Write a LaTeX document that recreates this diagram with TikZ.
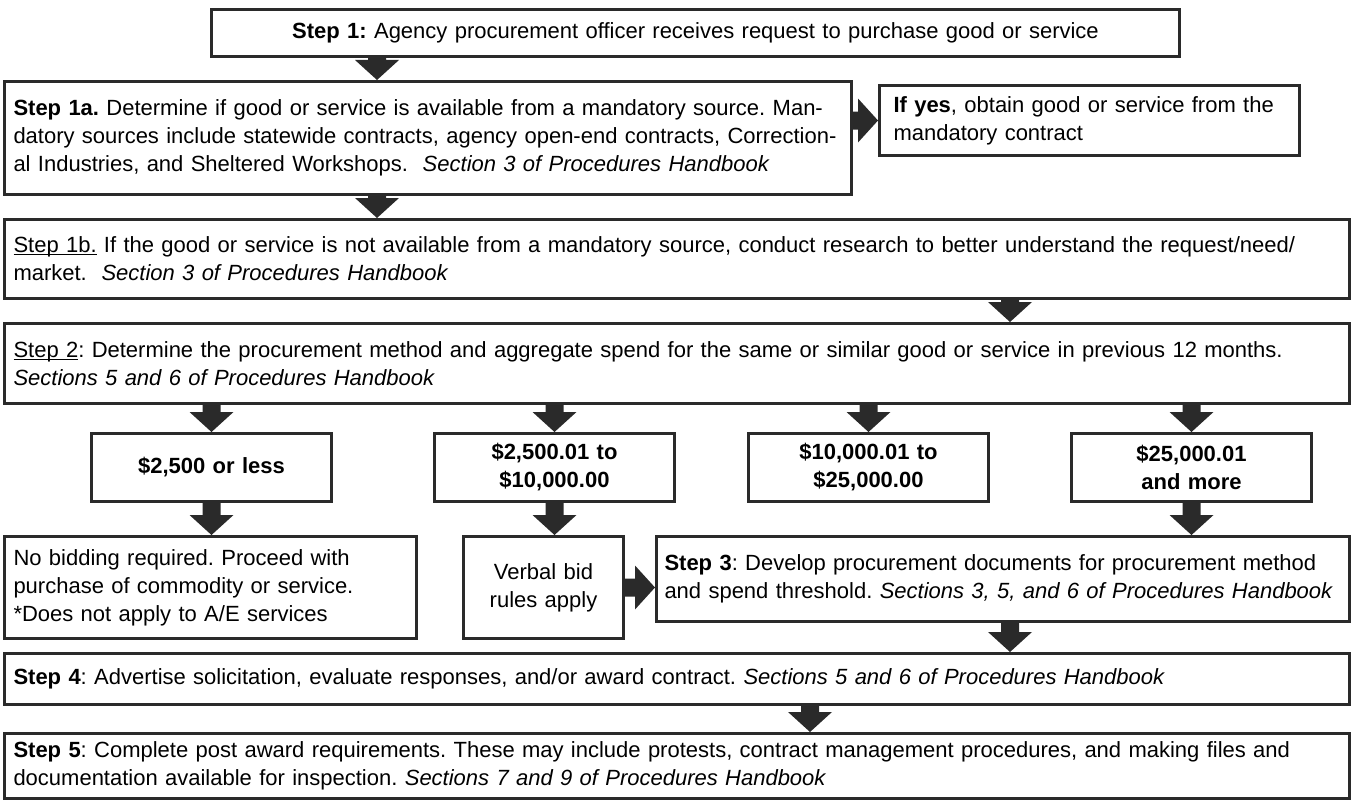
\documentclass[tikz,border=0pt]{standalone}
\usepackage{fontspec}
\setmainfont{Liberation Sans}
\usetikzlibrary{calc}
\definecolor{edge}{HTML}{2A2A2A}
\newcommand{\myul}[1]{\setbox0\hbox{#1}\rlap{\rule[-2.6pt]{\wd0}{1.3pt}}\box0\relax}
\tikzset{
  box/.style={draw=edge, line width=3pt, fill=white, inner xsep=9pt, inner ysep=0pt,
    align=left, anchor=north west, font=\fontsize{22}{28}\selectfont\frenchspacing},
  cbox/.style={box, align=center},
  amt/.style={cbox, text width=222pt, minimum height=68pt, font=\fontsize{22}{28}\selectfont\bfseries},
}
\newcommand{\blkdown}[2]{\fill[edge] ($(#1)+(-9,0)$) -- ($(#2)+(-9,-20)$) -- ($(#2)+(-22,-20)$) -- (#2) -- ($(#2)+(22,-20)$) -- ($(#2)+(9,-20)$) -- ($(#1)+(9,0)$) -- cycle;}
\newcommand{\blkright}[2]{\fill[edge] ($(#1)+(0,-9)$) -- ($(#2)+(-20,-9)$) -- ($(#2)+(-20,-22)$) -- (#2) -- ($(#2)+(-20,22)$) -- ($(#2)+(-20,9)$) -- ($(#1)+(0,9)$) -- cycle;}
\begin{document}
\begin{tikzpicture}[x=1pt,y=-1pt]
\path[use as bounding box] (0,0) rectangle (1351,800);
% boxes
\node[cbox, text width=950pt, minimum height=47pt] (s1) at (210,8)
  {\textbf{Step 1:} Agency procurement officer receives request to purchase good or service};
\node[box, text width=829pt, minimum height=113pt] (s1a) at (3,80)
  {\textbf{Step 1a.} Determine if good or service is available from a mandatory source. Man-\\
   datory sources include statewide contracts, agency open-end contracts, Correction-\\
   al Industries, and Sheltered Workshops.\ \ \textit{Section 3 of Procedures Handbook}};
\node[box, inner xsep=14pt, text width=392pt, minimum height=70pt] (yes) at (878,84)
  {\textbf{If yes}, obtain good or service from the\\mandatory contract};
\node[box, text width=1327pt, minimum height=79pt] (s1b) at (3,218)
  {\myul{Step 1b.} If the good or service is not available from a mandatory source, conduct research to better understand the request/need/\\
   market.\ \ \textit{Section 3 of Procedures Handbook}};
\node[box, text width=1327pt, minimum height=80pt] (s2) at (3,322)
  {\myul{Step 2}: Determine the procurement method and aggregate spend for the same or similar good or service in previous 12 months.\\
   \textit{Sections 5 and 6 of Procedures Handbook}};
\node[amt] (m1) at (90,432) {\$2,500 or less};
\node[amt] (m2) at (433,432) {\$2,500.01 to\\\$10,000.00};
\node[amt] (m3) at (747,432) {\$10,000.01 to\\\$25,000.00};
\node[amt] (m4) at (1070,432) {\$25,000.01\\and more};
\node[box, text width=394pt, minimum height=102pt] (nb) at (3,535)
  {No bidding required. Proceed with\\purchase of commodity or service.\\{}*Does not apply to A/E services};
\node[cbox, text width=142pt, minimum height=102pt] (vb) at (462,535) {Verbal bid\\rules apply};
\node[box, inner xsep=8pt, text width=677pt, minimum height=85pt] (s3) at (655,535)
  {\textbf{Step 3}: Develop procurement documents for procurement method\\
   \mbox{and spend threshold. \textit{Sections 3, 5, and 6 of Procedures Handbook}}};
\node[box, text width=1327pt, minimum height=51pt] (s4) at (3,652)
  {\textbf{Step 4}: Advertise solicitation, evaluate responses, and/or award contract. \textit{Sections 5 and 6 of Procedures Handbook}};
\node[box, text width=1327pt, minimum height=65pt] (s5) at (3,732)
  {\textbf{Step 5}: Complete post award requirements. These may include protests, contract management procedures, and making files and\\
   documentation available for inspection. \textit{Sections 7 and 9 of Procedures Handbook}};
% arrow positions
\coordinate (xa) at (377,0);
\coordinate (xb) at (1010,0);
\coordinate (xc) at (810,0);
\coordinate (a1t) at (s1.south -| xa);   \coordinate (a1b) at (s1a.north -| xa);
\coordinate (a2t) at (s1a.south -| xa);  \coordinate (a2b) at (s1b.north -| xa);
\coordinate (a3t) at (s1b.south -| xb);  \coordinate (a3b) at (s2.north -| xb);
\coordinate (a4t) at (s2.south -| m1);   \coordinate (a4b) at (m1.north);
\coordinate (a5t) at (s2.south -| m2);   \coordinate (a5b) at (m2.north);
\coordinate (a6t) at (s2.south -| m3);   \coordinate (a6b) at (m3.north);
\coordinate (a7t) at (s2.south -| m4);   \coordinate (a7b) at (m4.north);
\coordinate (a8t) at (m1.south);         \coordinate (a8b) at (nb.north -| m1);
\coordinate (a9t) at (m2.south);         \coordinate (a9b) at (vb.north -| m2);
\coordinate (a10t) at (m4.south);        \coordinate (a10b) at (s3.north -| m4);
\coordinate (a11t) at (s3.south -| xb);  \coordinate (a11b) at (s4.north -| xb);
\coordinate (a12t) at (s4.south -| xc);  \coordinate (a12b) at (s5.north -| xc);
\coordinate (h1l) at (s1a.east |- yes.west); \coordinate (h1r) at (yes.west);
\coordinate (h2l) at (vb.east);          \coordinate (h2r) at (s3.west |- vb.east);
% arrows
\blkdown{a1t}{a1b}
\blkdown{a2t}{a2b}
\blkdown{a3t}{a3b}
\blkdown{a4t}{a4b}
\blkdown{a5t}{a5b}
\blkdown{a6t}{a6b}
\blkdown{a7t}{a7b}
\blkdown{a8t}{a8b}
\blkdown{a9t}{a9b}
\blkdown{a10t}{a10b}
\blkdown{a11t}{a11b}
\blkdown{a12t}{a12b}
\blkright{h1l}{h1r}
\blkright{h2l}{h2r}
\end{tikzpicture}
\end{document}
